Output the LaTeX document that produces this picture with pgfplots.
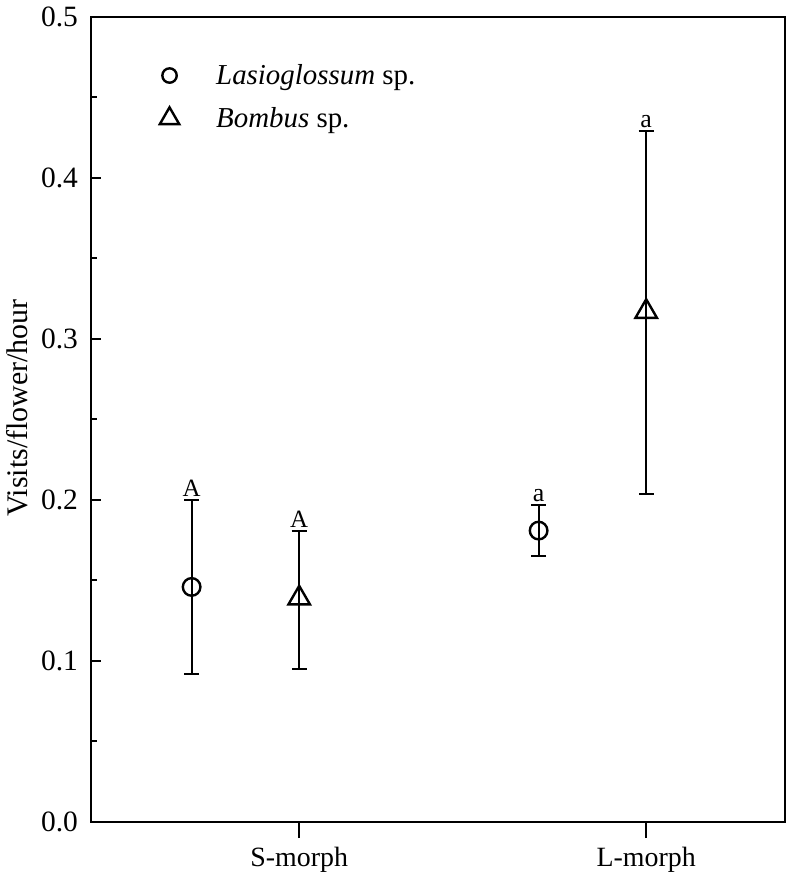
\documentclass[border=0pt]{standalone}
\usepackage{pgfplots}
\pgfplotsset{compat=1.18}
\usepackage{fontspec}
\setmainfont{Liberation Serif}
\begin{document}
\begin{tikzpicture}
\begin{axis}[
  scale only axis,
  width=347bp, height=402.5bp,
  xmin=0.4, xmax=2.4,
  ymin=0, ymax=0.5,
  axis line style={line width=1.1bp},
  xtick=\empty,
  extra x ticks={1,2}, extra x tick labels={S-morph, L-morph},
  extra x tick style={major tick length=8bp, tick align=outside, xtick pos=bottom,
    xticklabel style={font=\fontsize{14}{16}\selectfont, yshift=-1bp}},
  ytick={0,0.1,0.2,0.3,0.4,0.5},
  minor ytick={0.05,0.15,0.25,0.35,0.45},
  ytick pos=left, ytick align=inside,
  major tick length=5bp, minor tick length=2.8bp,
  every tick/.style={line width=1bp, black},
  /pgf/number format/assume math mode=true,
  tick label style={font=\fontsize{14.8}{16}\selectfont},
  yticklabel style={xshift=-3bp, /pgf/number format/.cd, fixed, fixed zerofill, precision=1},
  ylabel={Visits/flower/hour},
  every axis y label/.style={at={(axis description cs:0,0.514)}, xshift=-37bp, rotate=90, anchor=center,
    font=\fontsize{15}{16}\selectfont},
  legend style={at={(rel axis cs:0.09,0.952)}, anchor=north west, draw=none, fill=none,
    font=\fontsize{14.5}{16}\selectfont, row sep=6bp, cells={anchor=west},
    /tikz/every odd column/.append style={column sep=16.5bp}},
  legend cell align=left,
  error bars/error bar style={line width=1bp, black},
  error bars/error mark options={rotate=90, line width=1bp, mark size=3.8bp, black},
]
\addlegendimage{only marks, mark=o, mark size=3.6bp, mark options={line width=1.2bp, fill=white}, black}
\addlegendentry{\textit{Lasioglossum} sp.}
\addlegendimage{only marks, mark=triangle, mark size=5.6bp, mark options={line width=1.2bp, fill=white}, black}
\addlegendentry{\textit{Bombus} sp.}
\addplot[forget plot, only marks, mark=o, mark size=4.4bp, mark options={line width=1.2bp, fill=white}, black,
  error bars/.cd, y dir=both, y explicit]
  coordinates {
    (0.69,0.146) += (0,0.054) -= (0,0.054)
    (1.69,0.181) += (0,0.016) -= (0,0.016)
  };
\addplot[forget plot, only marks, mark=triangle, mark size=6.2bp, mark options={line width=1.2bp, fill=white}, black,
  error bars/.cd, y dir=both, y explicit]
  coordinates {
    (1.0,0.139) += (0,0.042) -= (0,0.044)
    (2.0,0.317) += (0,0.112) -= (0,0.113)
  };
\node[anchor=south, inner sep=1.5bp, font=\fontsize{12.5}{14}\selectfont] at (axis cs:0.69,0.200) {A};
\node[anchor=south, inner sep=1.5bp, font=\fontsize{12.5}{14}\selectfont] at (axis cs:1.0,0.181) {A};
\node[anchor=south, inner sep=1.5bp, font=\fontsize{13}{14}\selectfont] at (axis cs:1.69,0.197) {a};
\node[anchor=south, inner sep=1.5bp, font=\fontsize{13}{14}\selectfont] at (axis cs:2.0,0.429) {a};
\coordinate (sw) at (rel axis cs:0,0);
\coordinate (ne) at (rel axis cs:1,1);
\end{axis}
\pgfresetboundingbox
\path[use as bounding box] ([xshift=-45.5bp,yshift=-29bp]sw) rectangle ([xshift=1bp,yshift=8.5bp]ne);
\end{tikzpicture}
\end{document}
